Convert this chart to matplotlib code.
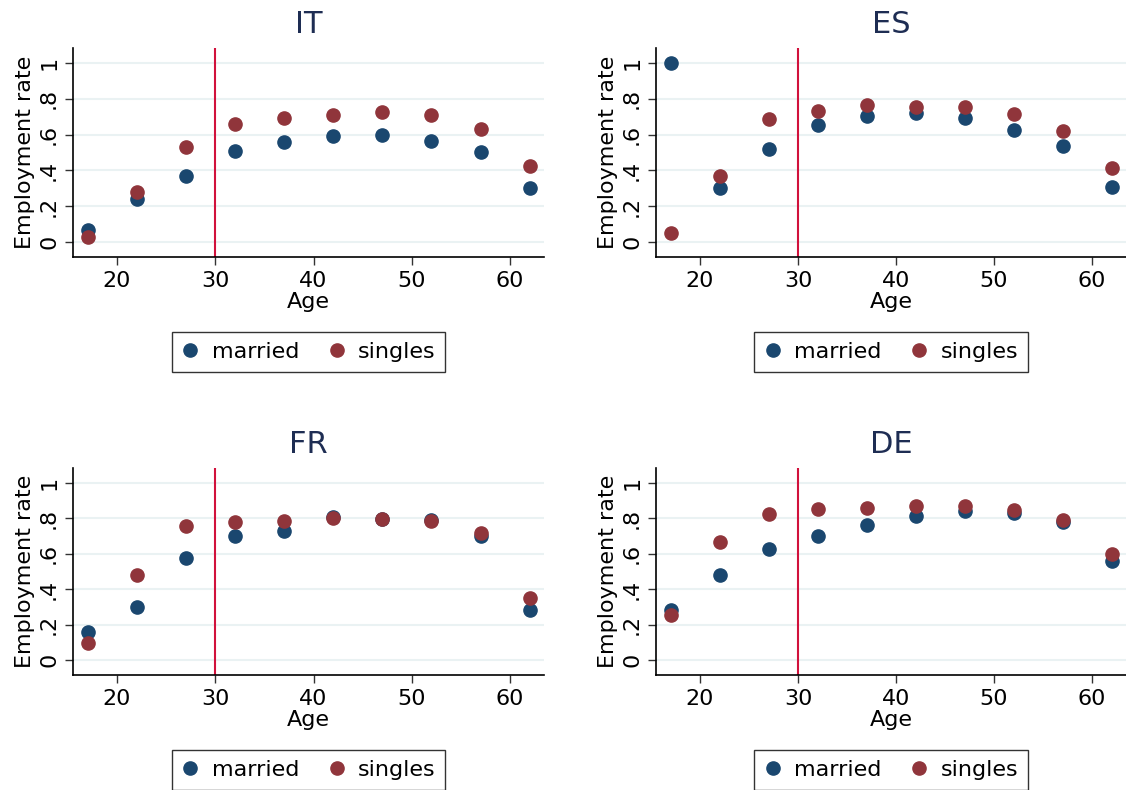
import matplotlib
matplotlib.use('Agg')
import matplotlib.pyplot as plt

ages = [17, 22, 27, 32, 37, 42, 47, 52, 57, 62]
countries = ['IT', 'ES', 'FR', 'DE']

married = {
    'IT': [0.065, 0.24, 0.368, 0.509, 0.559, 0.593, 0.600, 0.567, 0.502, 0.303],
    'ES': [1.0, 0.301, 0.522, 0.651, 0.706, 0.721, 0.691, 0.623, 0.535, 0.307],
    'FR': [0.158, 0.301, 0.578, 0.701, 0.729, 0.805, 0.796, 0.792, 0.701, 0.281],
    'DE': [0.284, 0.483, 0.626, 0.699, 0.764, 0.814, 0.840, 0.829, 0.779, 0.558],
}
singles = {
    'IT': [0.026, 0.277, 0.532, 0.658, 0.695, 0.712, 0.725, 0.708, 0.630, 0.426],
    'ES': [0.05, 0.37, 0.688, 0.732, 0.764, 0.753, 0.755, 0.716, 0.621, 0.411],
    'FR': [0.095, 0.481, 0.758, 0.779, 0.786, 0.803, 0.796, 0.786, 0.717, 0.351],
    'DE': [0.255, 0.665, 0.825, 0.853, 0.861, 0.870, 0.870, 0.848, 0.788, 0.600],
}
cutoff = 30
yticks = [0, 0.2, 0.4, 0.6, 0.8, 1]
ylabels = ['0', '.2', '.4', '.6', '.8', '1']

c_married = '#1a476f'
c_singles = '#90353b'

fig = plt.figure(figsize=(11.26, 7.9), dpi=100)

# axes boxes in figure fractions (left, bottom, width, height)
pos = {
    'IT': [73/1126, 1 - 257/790, 471/1126, 209/790],
    'ES': [656/1126, 1 - 257/790, 470/1126, 209/790],
    'FR': [73/1126, 1 - 675/790, 471/1126, 207/790],
    'DE': [656/1126, 1 - 675/790, 470/1126, 207/790],
}

for c in countries:
    ax = fig.add_axes(pos[c])
    for y in yticks:
        ax.axhline(y, color='#eaf2f3', lw=1.5, zorder=0)
    ax.axvline(cutoff, color='#d1113c', lw=1.5, zorder=1)
    ax.plot(ages, married[c], 'o', color=c_married, ms=9.5, label='married', zorder=3)
    ax.plot(ages, singles[c], 'o', color=c_singles, ms=9.5, label='singles', zorder=4)

    ax.set_xlim(15.52, 63.46)
    ax.set_ylim(-0.084, 1.084)
    ax.set_xticks([20, 30, 40, 50, 60])
    ax.set_yticks(yticks)
    ax.set_yticklabels(ylabels, rotation=90, va='center')
    ax.tick_params(labelsize=16, length=6, width=1, color='#333333', pad=4)
    for s in ['top', 'right']:
        ax.spines[s].set_visible(False)
    for s in ['left', 'bottom']:
        ax.spines[s].set_linewidth(1.2)
    ax.set_xlabel('Age', fontsize=16, labelpad=1)
    ax.set_ylabel('Employment rate', fontsize=16, labelpad=3)
    ax.set_title(c, fontsize=22, color='#1e2d53', pad=11)

    leg = ax.legend(loc='upper center', bbox_to_anchor=(0.5, -0.36), ncol=2,
                    fontsize=16, frameon=True, fancybox=False, edgecolor='black',
                    handletextpad=0.55, columnspacing=1.3, borderpad=0.45,
                    handlelength=0.8, borderaxespad=0, numpoints=1)
    leg.get_frame().set_linewidth(1)

fig.savefig('out.png', dpi=100)
